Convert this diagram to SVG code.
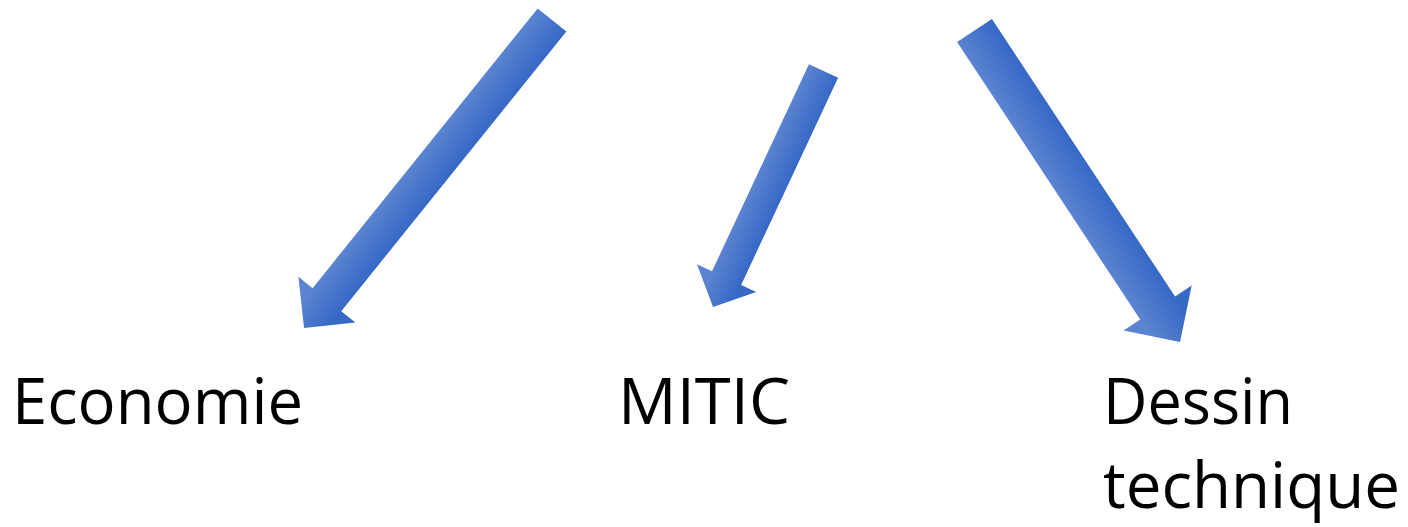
<svg xmlns="http://www.w3.org/2000/svg" width="1408" height="527" viewBox="0 0 1408 527">
<style>
.lbl{font-family:"Open Sans","Noto Sans",sans-serif;font-size:64px;fill:#000}
.s0{stop-color:#5b84d0}
.s1{stop-color:#3668c6}
</style>
<defs>
<linearGradient id="g1" gradientUnits="userSpaceOnUse" x1="0" y1="18.4" x2="0" y2="-18.4"><stop offset="0" class="s0"/><stop offset="1" class="s1"/></linearGradient>
<linearGradient id="g2" gradientUnits="userSpaceOnUse" x1="0" y1="16.1" x2="0" y2="-16.1"><stop offset="0" class="s0"/><stop offset="1" class="s1"/></linearGradient>
<linearGradient id="g3" gradientUnits="userSpaceOnUse" x1="0" y1="20.9" x2="0" y2="-20.9"><stop offset="0" class="s0"/><stop offset="1" class="s1"/></linearGradient>
</defs>
<g id="connectors">
<polygon fill="url(#g1)" transform="translate(552 20) rotate(128.83)" points="0,-18.4 359,-18.4 359,-36.6 395.4,0 359,36.6 359,18.4 0,18.4"/>
<polygon fill="url(#g2)" transform="translate(823.5 71) rotate(115.08)" points="0,-16.1 228.7,-16.1 228.7,-32.7 260.6,0 228.7,32.7 228.7,16.1 0,16.1"/>
<polygon fill="url(#g3)" transform="translate(974.5 30.5) rotate(56.58)" points="0,-20.9 332.5,-20.9 332.5,-40.8 373.2,0 332.5,40.8 332.5,20.9 0,20.9"/>
</g>
<g id="economie"><text class="lbl" x="12" y="424" textLength="291" lengthAdjust="spacingAndGlyphs">Economie</text></g>
<g id="mitic"><text class="lbl" x="618" y="424" textLength="172" lengthAdjust="spacingAndGlyphs">MITIC</text></g>
<g id="dessin"><text class="lbl" x="1103" y="424" textLength="190" lengthAdjust="spacingAndGlyphs">Dessin</text><text class="lbl" x="1103" y="508" textLength="297" lengthAdjust="spacingAndGlyphs">technique</text></g>
</svg>
